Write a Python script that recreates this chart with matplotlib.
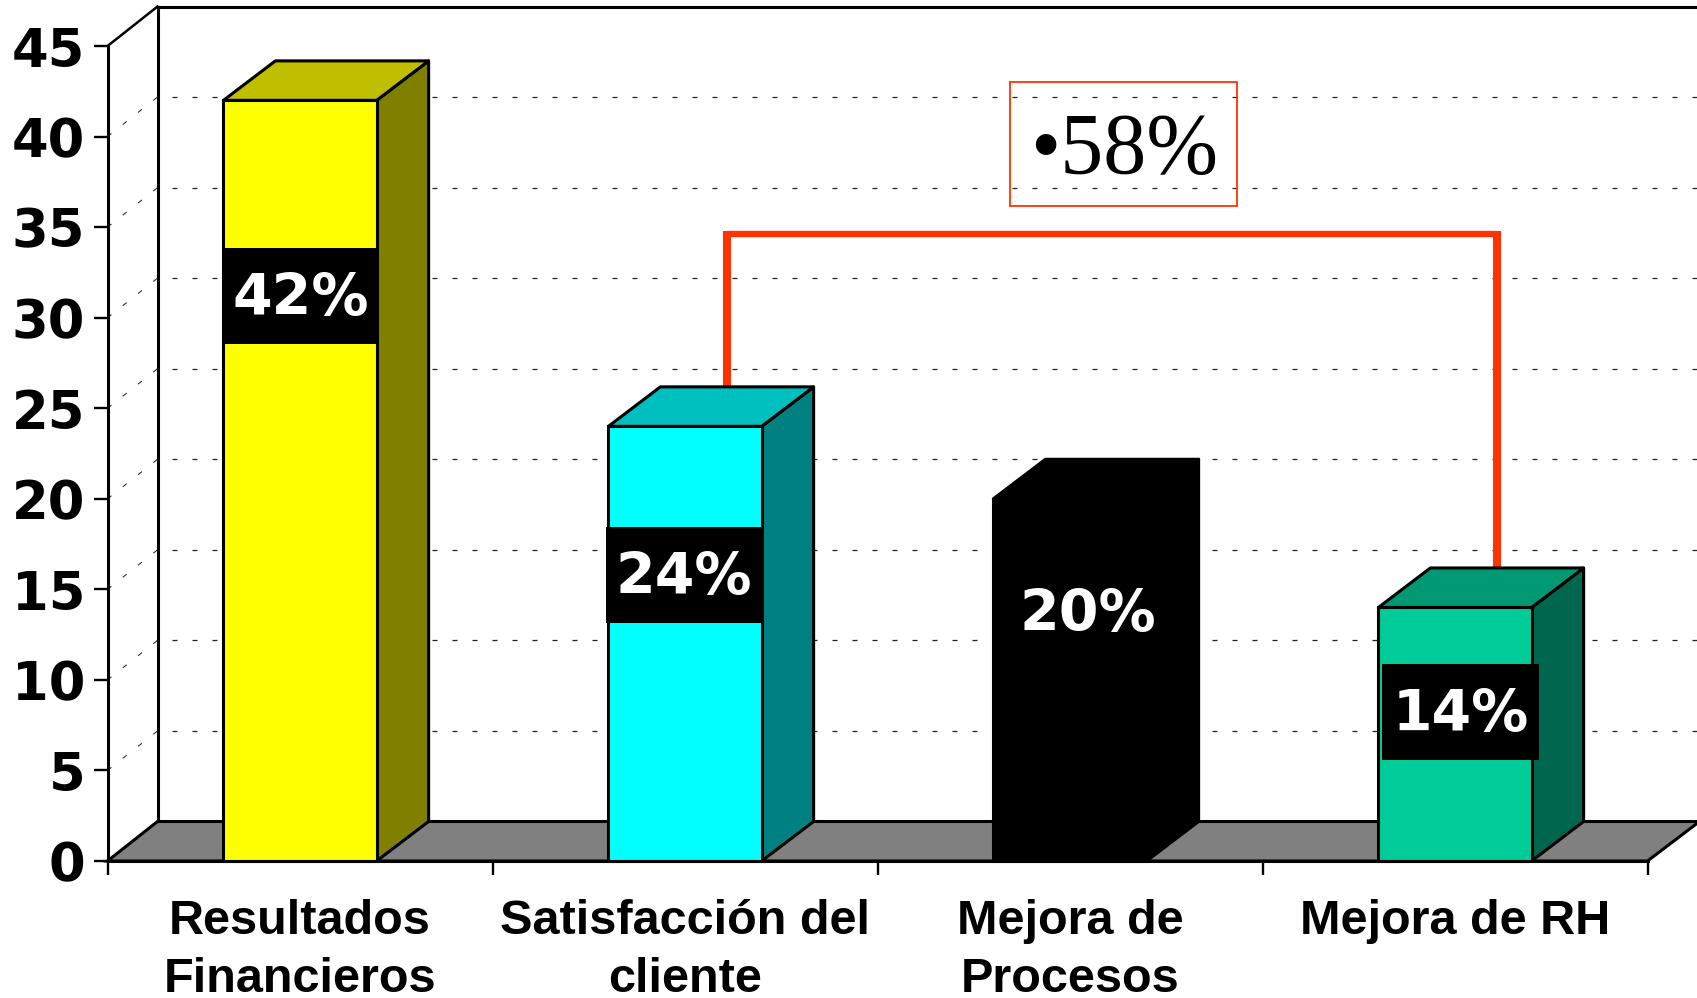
import matplotlib
matplotlib.use("Agg")
from matplotlib import pyplot as plt
from matplotlib.patches import Polygon, Rectangle

categories = ["Resultados\nFinancieros", "Satisfacción del\ncliente", "Mejora de\nProcesos", "Mejora de RH"]
values = [42, 24, 20, 14]
labels = ["42%", "24%", "20%", "14%"]
y_ticks = [0, 5, 10, 15, 20, 25, 30, 35, 40, 45]
total_label = "•58%"

front_colors = ["#FFFF00", "#00FFFF", "#000000", "#00CC99"]
side_colors = ["#808000", "#008080", "#000000", "#00664D"]
top_colors = ["#BFBF00", "#00BFBF", "#000000", "#009973"]

W, H = 1697, 998
X0, CAT_W = 107.5, 385.0   # px of x=0, px per category
Y0, UNIT = 861.0, 18.11    # px of y=0, px per unit
DX = 52 / CAT_W            # 3d depth of the bars
WALL_DX = 50 / CAT_W       # 3d depth of the walls
DY = 39.5 / UNIT
BAR_W = 0.398
RED = "#FF3300"

fig = plt.figure(figsize=(W / 100, H / 100), dpi=100)
ax = fig.add_axes([0, 0, 1, 1])
ax.set_xlim(-X0 / CAT_W, (W - X0) / CAT_W)
ax.set_ylim(-(H - Y0) / UNIT, Y0 / UNIT)
ax.patch.set_visible(False)

# back wall and floor
ax.plot([WALL_DX, WALL_DX], [DY, 45 + DY], color="k", lw=2.2, zorder=2, clip_on=False)
ax.plot([WALL_DX, 4 + DX], [45 + DY, 45 + DY], color="k", lw=2.2, zorder=2)
ax.plot([0, WALL_DX], [45, 45 + DY], color="k", lw=1.8, zorder=2)
ax.add_patch(Polygon([(0, 0), (4, 0), (4 + DX, DY), (WALL_DX, DY)], fc="#808080", ec="k", lw=2.2, zorder=2))

# grid
for v in y_ticks[1:-1]:
    ax.plot([0, WALL_DX], [v, v + DY], color="#333333", lw=0.8, ls=(0, (4.5, 13)), zorder=1)
    ax.plot([WALL_DX + 14 / CAT_W, 4 + DX], [v + DY, v + DY], color="#222222", lw=0.9, ls=(0, (4, 12)), zorder=1)

# bracket
left = 1 + 0.5 + 42 / CAT_W
right = 3 + 0.5 + 42 / CAT_W
top = (Y0 - 234) / UNIT
ax.plot([left, right], [top, top], color=RED, lw=4.6, solid_capstyle="butt", zorder=3)
ax.plot([left, left], [values[1] + DY, top + 3 / UNIT], color=RED, lw=5.8, solid_capstyle="butt", zorder=3)
ax.plot([right, right], [values[3] + DY, top + 3 / UNIT], color=RED, lw=5.8, solid_capstyle="butt", zorder=3)

# bars
for i, v in enumerate(values):
    a = i + 0.5 - BAR_W / 2
    b = i + 0.5 + BAR_W / 2
    ec = "k"
    ax.add_patch(Polygon([(b, 0), (b + DX, DY), (b + DX, v + DY), (b, v)], fc=side_colors[i], ec=ec, lw=2.2, zorder=4, joinstyle="round"))
    ax.add_patch(Polygon([(a, v), (a + DX, v + DY), (b + DX, v + DY), (b, v)], fc=top_colors[i], ec=ec, lw=2.2, zorder=4, joinstyle="round"))
    ax.add_patch(Rectangle((a, 0), BAR_W, v, fc=front_colors[i], ec=ec, lw=2.2, zorder=5))

# value labels on black boxes (centre in px of the original slide)
label_pos = [(300.5, 296), (684, 574.5), (1088, 612), (1461, 712)]
for (px, py), s in zip(label_pos, labels):
    x = (px - X0) / CAT_W
    y = (Y0 - py) / UNIT
    ax.add_patch(Rectangle((x - 78.5 / CAT_W, y - 48 / UNIT), 157 / CAT_W, 96 / UNIT, fc="k", ec="none", zorder=6))
    ax.text(x, y - 4 / UNIT, s, color="w", fontsize=41, fontweight="bold", family="DejaVu Sans",
            ha="center", va="center", zorder=7)

# 58% box
ax.add_patch(Rectangle(((1010 - X0) / CAT_W, (Y0 - 206) / UNIT), 227 / CAT_W, 124 / UNIT,
                       fc="none", ec=RED, lw=1.3, zorder=6))
ax.text((1124 - X0) / CAT_W, (Y0 - 152) / UNIT, total_label, family="Liberation Serif", fontsize=62,
        ha="center", va="center", color="k", zorder=7)

# axes
for s in ["top", "right"]:
    ax.spines[s].set_visible(False)
ax.spines["left"].set_position(("data", 0))
ax.spines["bottom"].set_position(("data", 0))
ax.spines["left"].set_bounds(0, 45)
ax.spines["bottom"].set_bounds(0, 4)
ax.spines["left"].set_linewidth(2.2)
ax.spines["bottom"].set_linewidth(2.2)
ax.spines["bottom"].set_zorder(8)

ax.set_yticks(y_ticks)
ax.set_yticklabels([str(t) for t in y_ticks], family="DejaVu Sans", fontweight="bold", fontsize=38)
ax.tick_params(axis="y", length=10, width=1.7, pad=6)
ax.set_xticks([0, 1, 2, 3, 4])
ax.set_xticklabels([])
ax.set_xticks([0.5, 1.5, 2.5, 3.5], minor=True)
ax.set_xticklabels(categories, minor=True, family="Liberation Sans", fontweight="bold", fontsize=35,
                   linespacing=1.4, va="top")
ax.tick_params(axis="x", which="major", length=10, width=1.7)
ax.tick_params(axis="x", which="minor", length=0, pad=27)

fig.savefig("out.png", dpi=100)
